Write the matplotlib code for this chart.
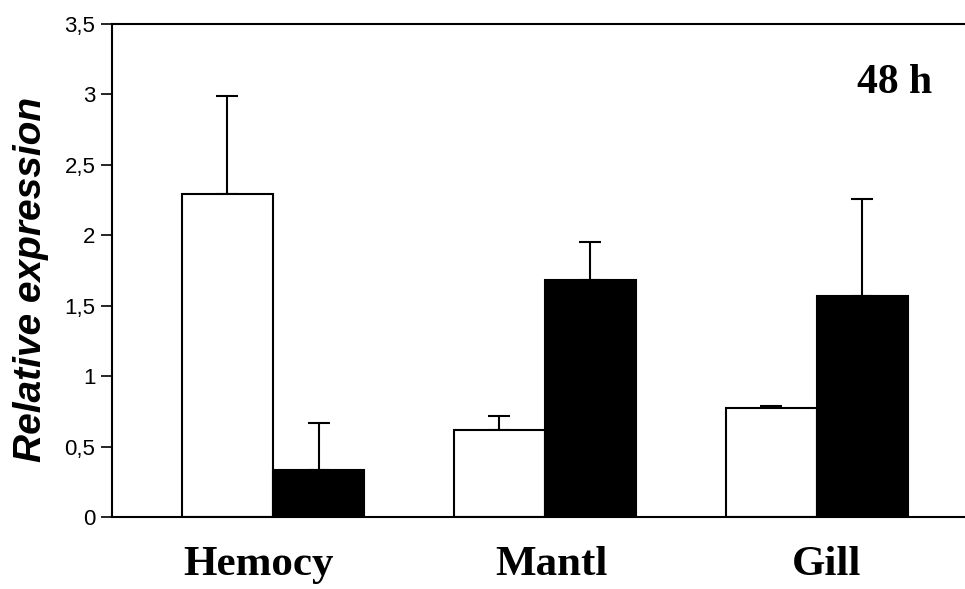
import matplotlib
matplotlib.use("Agg")
import matplotlib.pyplot as plt
import matplotlib.transforms as mtransforms
import numpy as np

categories = ["Hemocy", "Mantl", "Gill"]
control = [2.29, 0.62, 0.775]
control_err = [0.70, 0.10, 0.015]
treated = [0.335, 1.685, 1.57]
treated_err = [0.33, 0.27, 0.69]
yticks = [0, 0.5, 1, 1.5, 2, 2.5, 3, 3.5]
ytick_labels = ["0", "0,5", "1", "1,5", "2", "2,5", "3", "3,5"]

fig = plt.figure(figsize=(9.65, 5.89), dpi=100)
ax = fig.add_axes([112/965, 1-517/589, 1-112/965, (517-24)/589])

x = np.arange(len(categories))
w = 0.335
ax.bar(x - w/2, control, w, color="white", edgecolor="black", linewidth=1.5, zorder=2)
ax.bar(x + w/2, treated, w, color="black", edgecolor="black", linewidth=1.5, zorder=2)
ax.errorbar(x - w/2, control, yerr=[np.zeros(3), control_err], fmt="none",
            ecolor="black", elinewidth=1.5, capsize=8, capthick=1.5, zorder=1)
ax.errorbar(x + w/2, treated, yerr=[np.zeros(3), treated_err], fmt="none",
            ecolor="black", elinewidth=1.5, capsize=8, capthick=1.5, zorder=1)

ax.set_xlim(-0.592, 2.545)
ax.set_ylim(0, 3.5)
ax.set_yticks(yticks)
ax.set_yticklabels(ytick_labels, fontfamily="Liberation Sans", fontsize=16)
ax.set_xticks(x)
ax.set_xticklabels(categories, fontfamily="Liberation Serif", fontweight="bold", fontsize=31)
ax.tick_params(axis="x", length=0, pad=21)
ax.tick_params(axis="y", length=8, width=1.2, direction="out", pad=4)
for lbl, dx in zip(ax.get_xticklabels(), [-15, 7, 10]):
    lbl.set_transform(lbl.get_transform() + mtransforms.ScaledTranslation(dx/100, 0, fig.dpi_scale_trans))
for s in ["left", "bottom", "top"]:
    ax.spines[s].set_linewidth(1.5)
ax.spines["right"].set_visible(False)

ax.set_ylabel("Relative expression", fontfamily="Liberation Sans", fontweight="bold",
              fontstyle="italic", fontsize=28)
ax.yaxis.set_label_coords(-0.074, 0.481)
ax.text(0.918, 0.88, "48 h", transform=ax.transAxes, ha="center", va="center",
        fontfamily="Liberation Serif", fontweight="bold", fontsize=30)

fig.savefig("out.png", dpi=100)
